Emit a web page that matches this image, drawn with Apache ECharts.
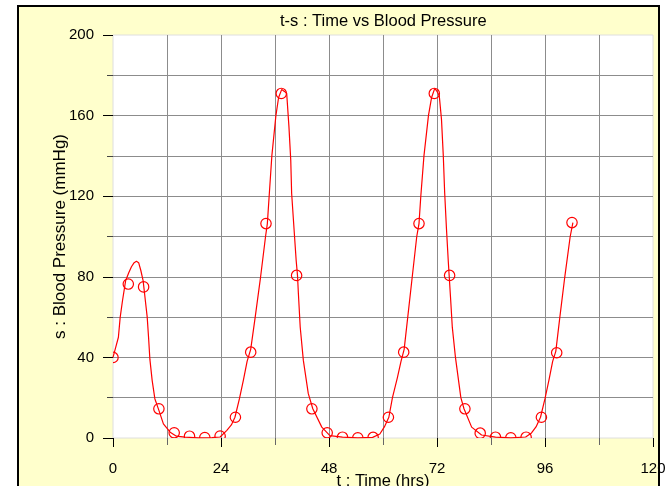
<!DOCTYPE html>
<html>
<head>
<meta charset="utf-8">
<script src="https://cdn.jsdelivr.net/npm/echarts@6/dist/echarts.min.js"></script>
<style>
html,body{margin:0;padding:0;background:#fff;overflow:hidden;width:666px;height:486px;}
#bg{position:absolute;left:17px;top:5px;width:643px;height:520px;background:#FFFFCC;}
#chart{position:absolute;left:0;top:0;width:666px;height:486px;}
#frame{position:absolute;left:17px;top:5px;width:643px;height:520px;border:2px solid #000;box-sizing:border-box;pointer-events:none;}
</style>
</head>
<body>
<div id="bg"></div>
<div id="chart"></div>
<div id="frame"></div>
<script>
// Axis ticks
const xTicks = [0, 24, 48, 72, 96, 120];
const yTicks = [0, 40, 80, 120, 160, 200];

// Sampled points (circle markers)
const markerT = [0, 3.4, 6.8, 10.2, 13.6, 17.0, 20.4, 23.8, 27.2, 30.6, 34.0, 37.4, 40.8, 44.2, 47.6, 51.0,
                 54.4, 57.8, 61.2, 64.6, 68.0, 71.4, 74.8, 78.2, 81.6, 85.0, 88.4, 91.8, 95.2, 98.6, 102.0];
const markerS = [40, 76.4, 75, 14.5, 2.6, 0.9, 0.2, 1.0, 10.3, 42.6, 106.4, 171, 80.7, 14.5, 2.6, 0.4,
                 0.1, 0.3, 10.3, 42.6, 106.4, 171, 80.7, 14.5, 2.4, 0.4, 0.1, 0.4, 10.3, 42.3, 106.9];

// Continuous curve
const lineT = [0, 0.6, 1.2, 1.6, 2.1, 2.8, 3.5, 4.1, 4.7, 5.2, 5.7, 6.2, 6.7, 7.1, 7.6, 7.9, 8.2, 8.7, 9.3, 10.2, 11.2, 12.7, 14.1, 16.0, 19.0, 22.0,
  23.8, 25.3, 26.3, 27.1, 28.1, 29.0, 29.8, 30.6, 31.6, 32.8, 33.9, 34.3, 34.7, 35.3, 36.2, 36.8, 37.5, 38.1, 38.6, 39.1, 39.5, 39.7, 40.2, 40.7, 41.0, 41.2, 41.6, 42.3, 43.4, 44.4, 46.4, 48.2, 51.0, 54.4,
  57.7, 59.3, 60.3, 61.3, 62.1, 63.2, 64.0, 64.7, 65.5, 66.5, 67.5, 68.0, 68.4, 69.1, 70.1, 70.8, 71.5, 72.0, 72.5, 73.0, 73.4, 73.7, 74.1, 74.5, 74.7, 75.0, 75.4, 76.1, 77.3, 78.0, 79.7, 81.9, 85.0, 88.4,
  91.7, 93.0, 94.0, 95.0, 96.0, 96.9, 97.7, 98.4, 99.3, 100.4, 101.6, 102.2];
const lineS = [40, 45, 50, 60, 68, 78, 82, 85, 87, 87.7, 87, 83, 78, 70, 60, 50, 39, 28.6, 19.5, 13.7, 7, 2.9, 0.9, 0.4, 0.1, 0.2,
  0.5, 3.8, 6.5, 10.3, 19.5, 29, 38, 44, 60, 80, 100, 106.4, 120, 140, 160, 169, 173, 172, 171, 154.4, 137.9, 121.3, 104.7, 88.2, 80.7, 71.6, 55.1, 38.5, 22, 14.5, 5.4, 1.2, 0.4, 0.1,
  0.3, 2, 5.5, 10.3, 20, 30, 38, 44, 60, 80, 100, 106.4, 120, 140, 160, 169, 173.5, 172, 170, 158, 140, 122, 104, 88, 80.7, 70, 55, 40, 20, 14.5, 5.4, 1.5, 0.4, 0.1,
  0.5, 2.5, 5.5, 10.3, 19.5, 29, 38, 43, 60, 80, 100, 106.9];

const FONT = 'Arial, "Liberation Sans", sans-serif';
const gridColor = '#8c8c8c';

const chart = echarts.init(document.getElementById('chart'), null, {renderer: 'canvas'});
chart.setOption({
  animation: false,
  backgroundColor: 'transparent',
  title: {
    text: 't-s : Time vs Blood Pressure',
    left: 280, top: 13, padding: 0,
    textStyle: {fontFamily: FONT, fontSize: 16.5, fontWeight: 'normal', color: '#000'}
  },
  grid: {
    left: 113, right: 13, top: 35, bottom: 48,
    outerBoundsMode: 'none', containLabel: false,
    show: true, backgroundColor: '#ffffff', borderColor: '#dedede', borderWidth: 1
  },
  xAxis: {
    type: 'value',
    min: xTicks[0], max: xTicks[xTicks.length - 1], interval: xTicks[1] - xTicks[0],
    name: 't : Time (hrs)', nameLocation: 'middle', nameGap: 35, nameMoveOverlap: false,
    nameTextStyle: {fontFamily: FONT, fontSize: 16.5, color: '#000'},
    axisLine: {show: false},
    axisTick: {show: true, length: 9, lineStyle: {color: '#000', width: 1}},
    minorTick: {show: true, splitNumber: 2, length: 7, lineStyle: {color: '#666', width: 1}},
    axisLabel: {fontFamily: FONT, fontSize: 15, color: '#000', margin: 23},
    splitLine: {show: true, showMinLine: false, showMaxLine: false, lineStyle: {color: gridColor, width: 1}},
    minorSplitLine: {show: true, lineStyle: {color: gridColor, width: 1}}
  },
  yAxis: {
    type: 'value',
    min: yTicks[0], max: yTicks[yTicks.length - 1], interval: yTicks[1] - yTicks[0],
    name: 's : Blood Pressure (mmHg)', nameLocation: 'middle', nameGap: 44, nameMoveOverlap: false,
    nameTextStyle: {fontFamily: FONT, fontSize: 17, color: '#000'},
    axisLine: {show: false},
    axisTick: {show: true, length: 10, lineStyle: {color: '#000', width: 1}},
    minorTick: {show: true, splitNumber: 2, length: 6, lineStyle: {color: '#444', width: 1}},
    axisLabel: {fontFamily: FONT, fontSize: 15, color: '#000', margin: 19},
    splitLine: {show: true, showMinLine: false, showMaxLine: false, lineStyle: {color: gridColor, width: 1}},
    minorSplitLine: {show: true, lineStyle: {color: gridColor, width: 1}}
  },
  series: [
    {
      type: 'line',
      data: lineT.map((t, i) => [t, lineS[i]]),
      showSymbol: false,
      clip: true,
      lineStyle: {color: '#ff0000', width: 1.2},
      z: 3
    },
    {
      type: 'custom',
      clip: true,
      data: markerT.map((t, i) => [t, markerS[i]]),
      renderItem: function (params, api) {
        const p = api.coord([api.value(0), api.value(1)]);
        return {
          type: 'circle',
          shape: {cx: p[0], cy: p[1], r: 5.2},
          style: {fill: 'none', stroke: '#ff0000', lineWidth: 1.2}
        };
      },
      z: 4
    }
  ]
});
</script>
</body>
</html>
